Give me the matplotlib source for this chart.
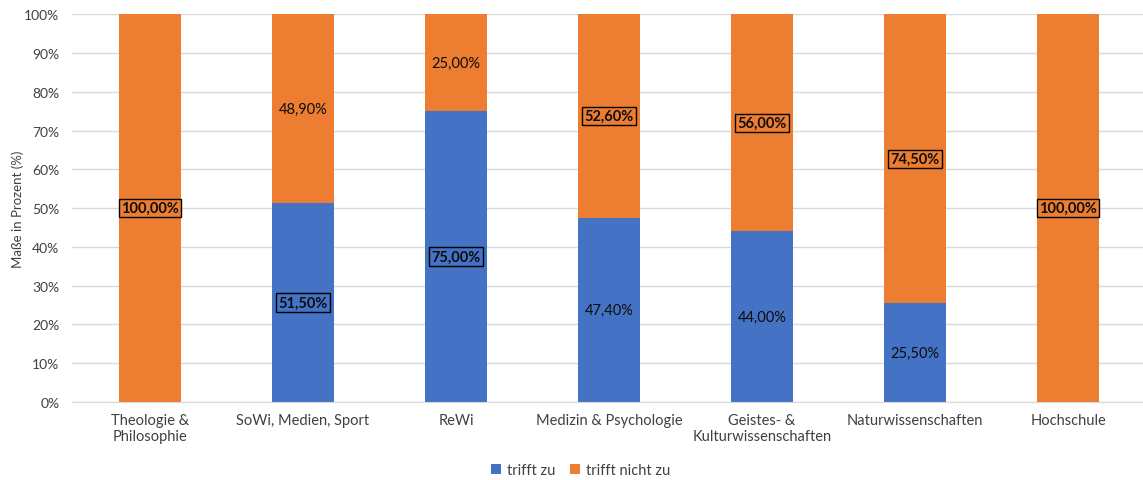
import matplotlib.pyplot as plt
import numpy as np
from matplotlib.ticker import PercentFormatter

plt.rcParams['font.family'] = ['Lato', 'DejaVu Sans']

# Data
categories = ["Theologie &\nPhilosophie", "SoWi, Medien, Sport", "ReWi",
              "Medizin & Psychologie", "Geistes- &\nKulturwissenschaften",
              "Naturwissenschaften", "Hochschule"]
trifft_zu = [0.0, 51.5, 75.0, 47.4, 44.0, 25.5, 0.0]
trifft_nicht_zu = [100.0, 48.9, 25.0, 52.6, 56.0, 74.5, 100.0]

blue = "#4472C4"
orange = "#ED7D31"

yes = np.array(trifft_zu)
no = np.array(trifft_nicht_zu)
total = yes + no
yes_n = yes / total * 100
no_n = no / total * 100

fig = plt.figure(figsize=(11.43, 4.81), dpi=100)
ax = fig.add_axes([0.063, 0.1625, 0.937, 0.8055])

x = np.arange(len(categories))
ax.bar(x, yes_n, width=0.4, color=blue, label="trifft zu", zorder=2)
ax.bar(x, no_n, width=0.4, bottom=yes_n, color=orange, label="trifft nicht zu", zorder=2)

def fmt(v):
    return "{:.2f}%".format(v).replace(".", ",")

box = dict(boxstyle="square,pad=0.15", facecolor="none", edgecolor="black", linewidth=1)
for i in range(len(categories)):
    big_yes = yes[i] > no[i]
    if yes[i] > 0:
        ax.text(x[i], yes_n[i] / 2, fmt(yes[i]), ha="center", va="center", fontsize=10.5,
                fontweight="bold" if big_yes else "normal", bbox=box if big_yes else None,
                color="#0d0d0d", zorder=3)
    if no[i] > 0:
        ax.text(x[i], yes_n[i] + no_n[i] / 2, fmt(no[i]), ha="center", va="center", fontsize=10.5,
                fontweight="normal" if big_yes else "bold", bbox=None if big_yes else box,
                color="#0d0d0d", zorder=3)

ax.set_xlim(-0.51, 6.49)
ax.set_ylim(0, 100)
ax.set_yticks(np.arange(0, 101, 10))
ax.yaxis.set_major_formatter(PercentFormatter(decimals=0))
ax.set_xticks(x)
ax.set_xticklabels(categories, fontsize=10.5, color="#404040")
ax.tick_params(axis="y", labelsize=10, colors="#404040", length=0, pad=9)
ax.tick_params(axis="x", length=0, pad=8)
ax.grid(axis="y", color="#d9d9d9", linewidth=1, zorder=0)
for s in ["top", "right", "left"]:
    ax.spines[s].set_visible(False)
ax.spines["bottom"].set_color("#d9d9d9")
ax.set_ylabel("Maße in Prozent (%)", fontsize=9.5, color="#404040")
ax.yaxis.set_label_coords(-0.045, 0.5)

fig.legend(*ax.get_legend_handles_labels(), loc="center", bbox_to_anchor=(0.508, 0.021),
           ncol=2, frameon=False, fontsize=10.5, handlelength=0.7, handleheight=0.7,
           columnspacing=1.0, handletextpad=0.4, labelcolor="#404040")

fig.savefig("out.png", dpi=100)
